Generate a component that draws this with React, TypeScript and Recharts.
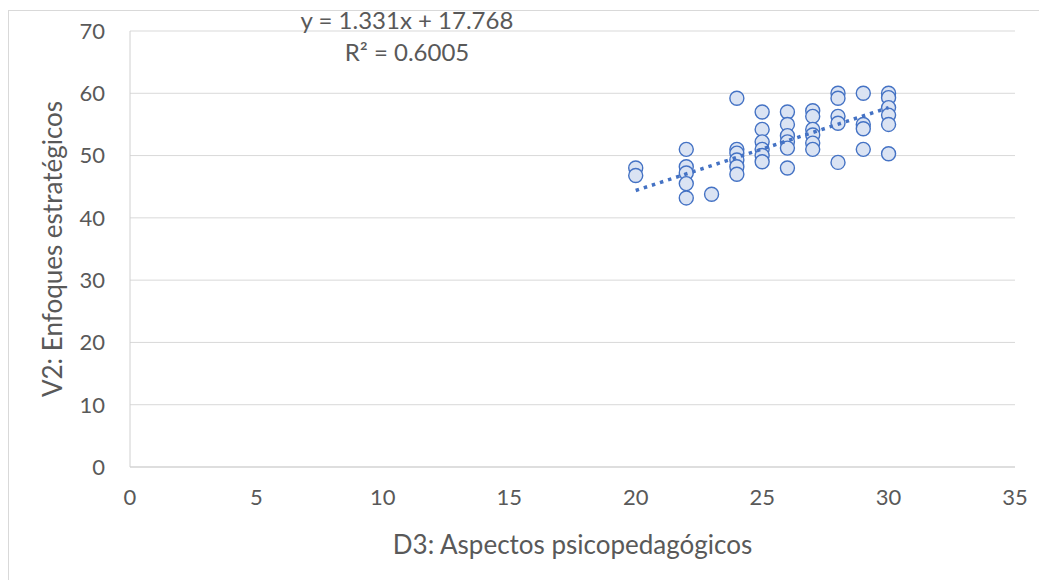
import React from "react";
import {
  CartesianGrid,
  Scatter,
  ScatterChart,
  XAxis,
  YAxis
} from "recharts";

// D3 (x) and V2 (y) scores
const scoresD3 = [
  20, 20,
  22, 22, 22, 22, 22,
  23,
  24, 24, 24, 24, 24, 24,
  25, 25, 25, 25, 25, 25,
  26, 26, 26, 26, 26, 26,
  27, 27, 27, 27, 27, 27,
  28, 28, 28, 28, 28,
  29, 29, 29, 29,
  30, 30, 30, 30, 30, 30
];
const scoresV2 = [
  48, 46.8,
  51, 48.2, 47.2, 45.5, 43.2,
  43.8,
  59.2, 51, 50.4, 49.3, 48.2, 47,
  57, 54.2, 52.2, 51, 50, 49,
  57, 55, 53.2, 52.2, 51.2, 48,
  57.2, 56.3, 54.2, 53.3, 52, 51,
  60, 59.2, 56.3, 55.2, 48.9,
  60, 55, 54.3, 51,
  60, 59.3, 57.7, 56.5, 55, 50.3
];

// linear trend end points (y = 1.331x + 17.768)
const trendX = [20, 30];
const trendY = [44.39, 57.7];

const xTicks = [0, 5, 10, 15, 20, 25, 30, 35];
const yTicks = [0, 10, 20, 30, 40, 50, 60, 70];

const points = scoresD3.map((x, i) => ({ x, y: scoresV2[i] }));
const trend = trendX.map((x, i) => ({ x, y: trendY[i] }));

const font = "Lato, 'Open Sans', sans-serif";
const gray = "#595959";

const Marker = (props: any) => (
  <circle
    cx={props.cx}
    cy={props.cy}
    r={7}
    fill="#dae3f3"
    stroke="#4472c4"
    strokeWidth={1.4}
  />
);

export default function App() {
  return (
    <div
      style={{
        position: "relative",
        marginTop: 2,
        width: 1038,
        height: 573,
        border: "1px solid #d9d9d9",
        background: "#fff",
        fontFamily: font
      }}
    >
      <ScatterChart
        width={1038}
        height={573}
        margin={{ top: 20, right: 32, bottom: 27, left: 11 }}
      >
        <CartesianGrid vertical={false} stroke="#d9d9d9" />
        <XAxis
          type="number"
          dataKey="x"
          domain={[0, 35]}
          ticks={xTicks}
          height={90}
          tickLine={false}
          tickSize={0}
          tickMargin={22}
          axisLine={{ stroke: "#d0d0d0" }}
          tick={{ fill: gray, fontSize: 22, fontFamily: font }}
          label={{
            value: "D3: Aspectos psicopedagógicos",
            position: "insideBottom",
            offset: 3,
            fill: gray,
            fontSize: 26,
            fontFamily: font
          }}
        />
        <YAxis
          type="number"
          dataKey="y"
          domain={[0, 70]}
          ticks={yTicks}
          width={110}
          tickLine={false}
          tickSize={0}
          tickMargin={25}
          axisLine={{ stroke: "#d0d0d0" }}
          tick={{ fill: gray, fontSize: 22, fontFamily: font }}
          label={{
            value: "V2: Enfoques estratégicos",
            angle: -90,
            position: "insideLeft",
            offset: 33,
            fill: gray,
            fontSize: 26,
            fontFamily: font,
            style: { textAnchor: "middle" }
          }}
        />
        <Scatter data={points} shape={Marker} isAnimationActive={false} />
        <Scatter
          data={trend}
          line={{ stroke: "#4472c4", strokeWidth: 3.5, strokeDasharray: "3.5 5" }}
          shape={() => <g />}
          isAnimationActive={false}
        />
      </ScatterChart>
      <div
        style={{
          position: "absolute",
          left: 270,
          width: 256,
          top: -7,
          textAlign: "center",
          color: gray,
          fontSize: 24,
          lineHeight: "32px"
        }}
      >
        <div>y = 1.331x + 17.768</div>
        <div>R² = 0.6005</div>
      </div>
    </div>
  );
}
